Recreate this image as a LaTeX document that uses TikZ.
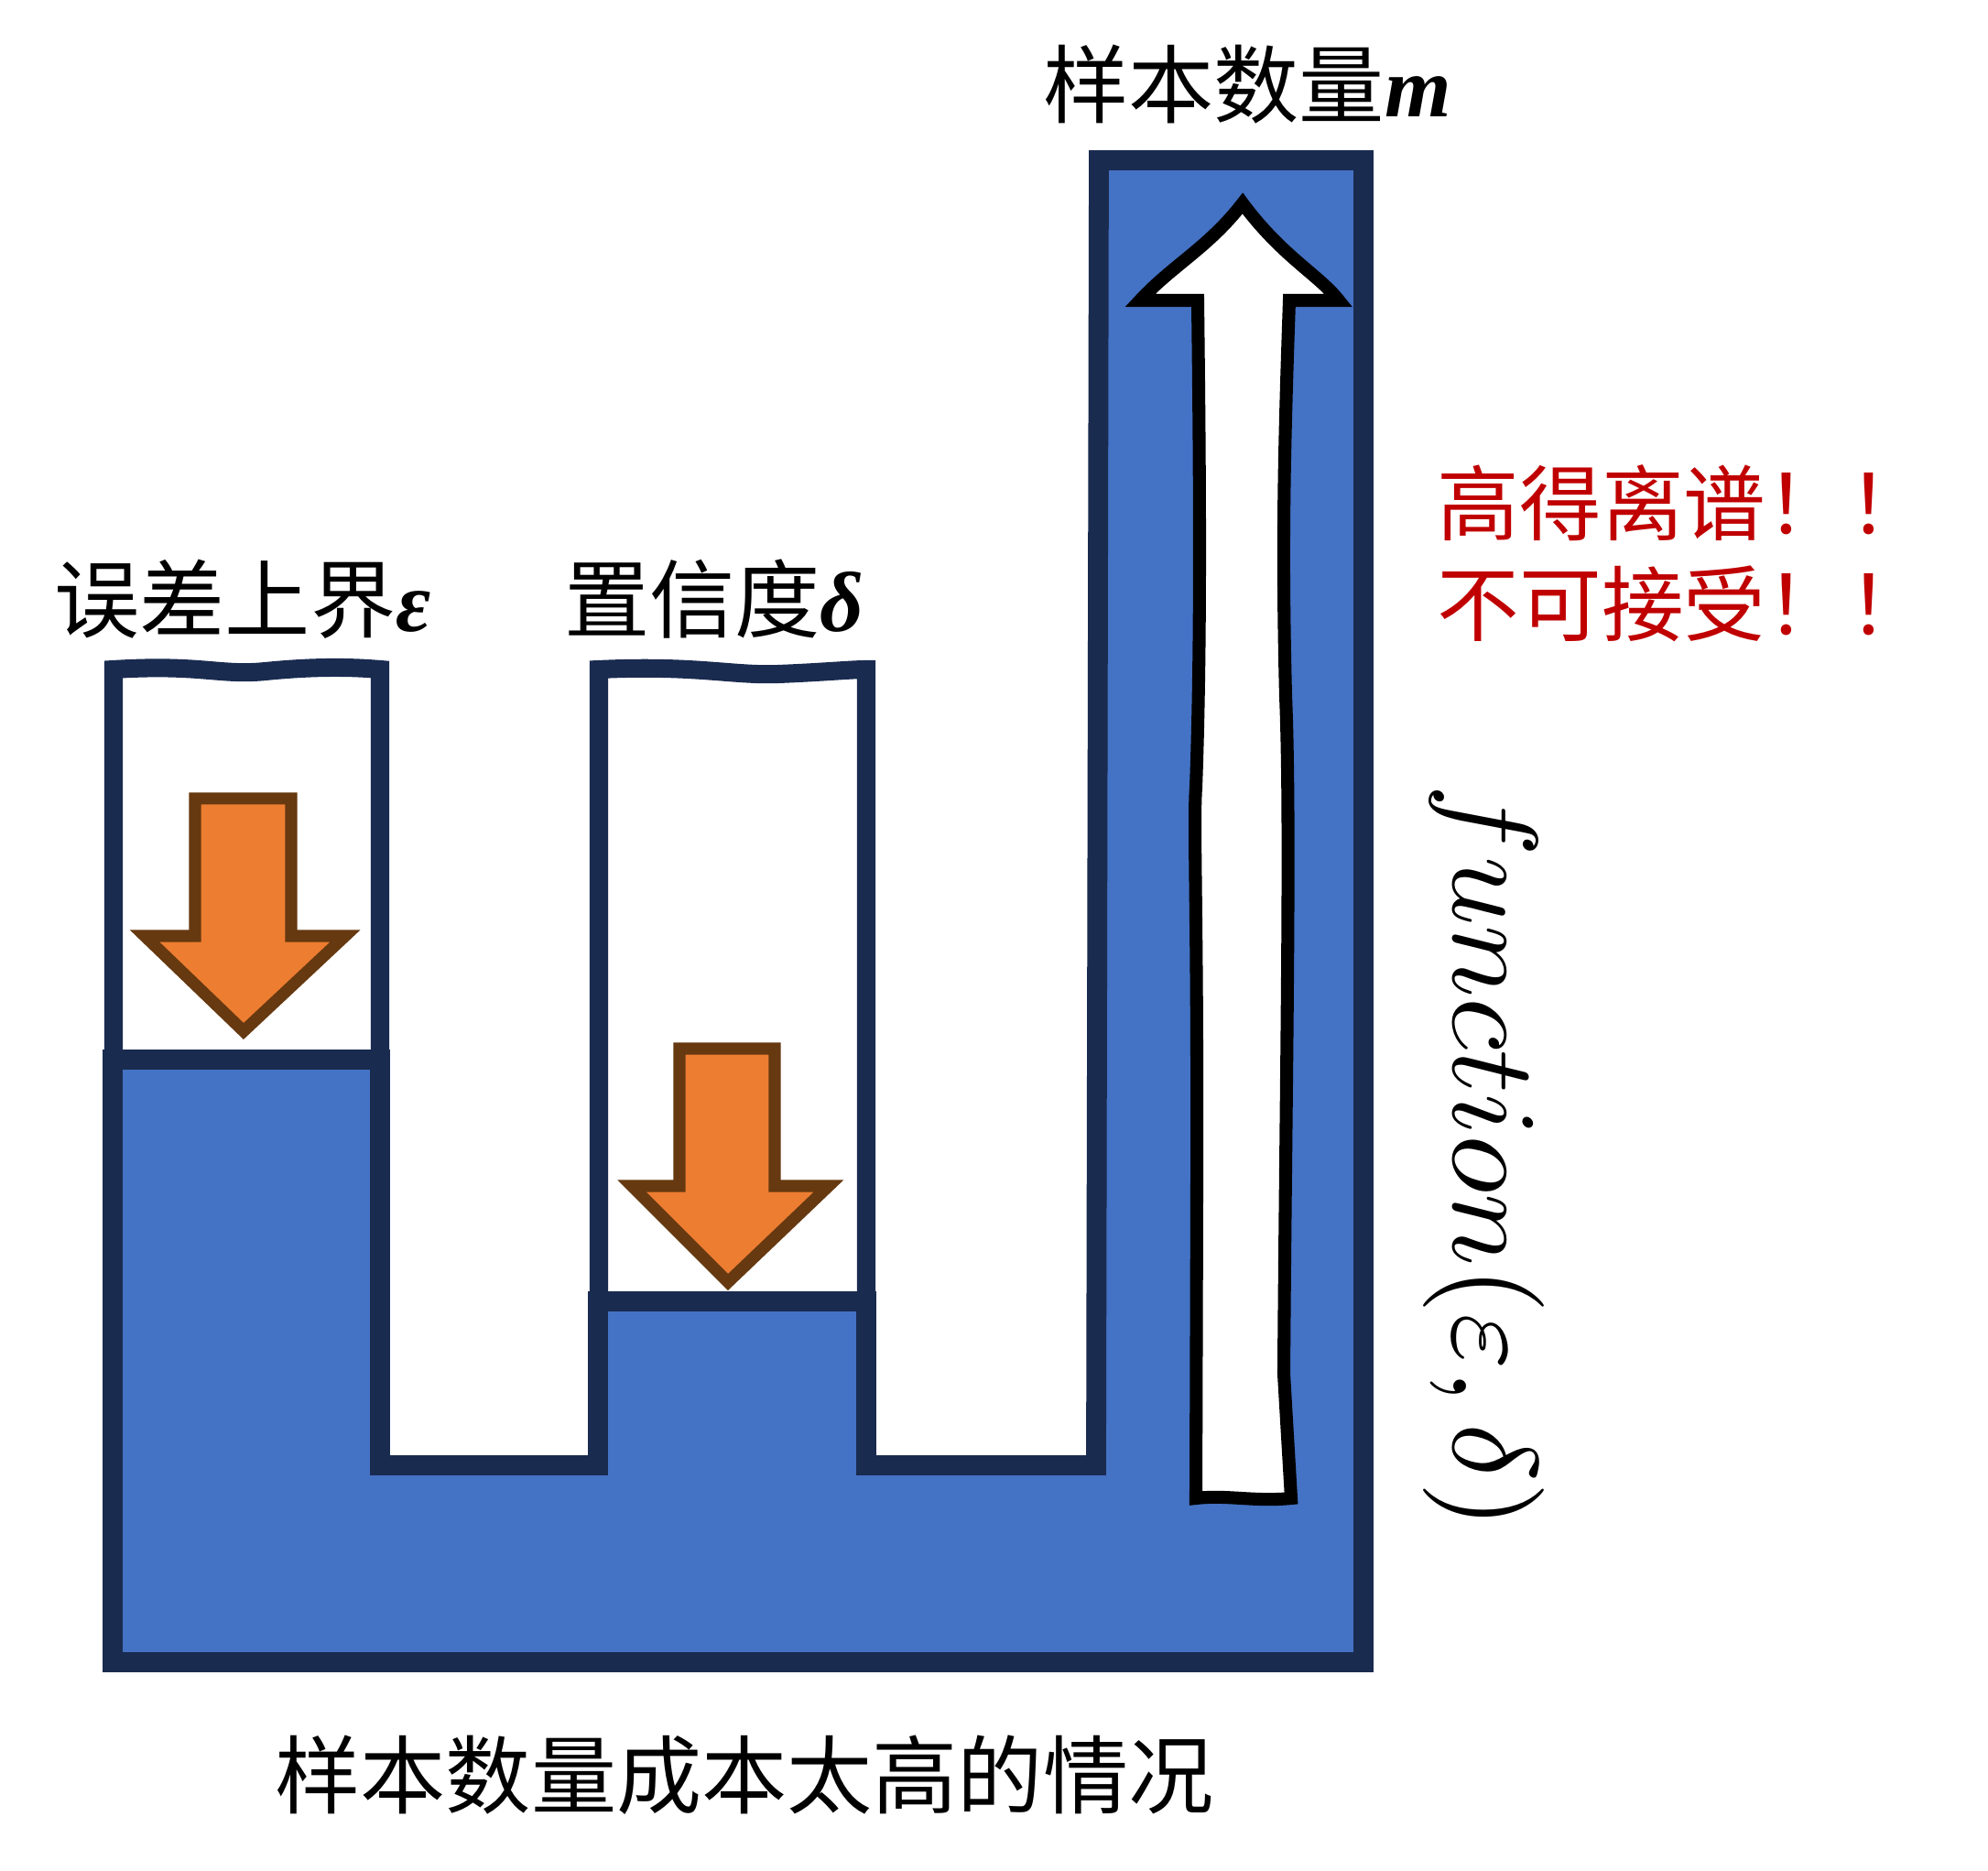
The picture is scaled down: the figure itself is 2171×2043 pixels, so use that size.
\documentclass[tikz,border=0pt]{standalone}
\usepackage{fontspec}
\usepackage{graphicx}
\newfontfamily\cjk{Noto Sans CJK SC}
\newfontfamily\grk{Liberation Serif}
\definecolor{cNavy}{HTML}{1A2B50}
\definecolor{cBlue}{HTML}{4472C4}
\definecolor{cOrange}{HTML}{ED7D31}
\definecolor{cBrown}{HTML}{663910}
\definecolor{cRed}{HTML}{C00000}
\begin{document}
\begin{tikzpicture}[x=0.01cm,y=-0.01cm,
  colbox/.style={draw=cNavy,fill=white,line width=5.7pt,line join=miter},
  basin/.style={draw=cNavy,fill=cBlue,line width=6.2pt,line join=miter},
  downarrow/.style={draw=cBrown,fill=cOrange,line width=3.7pt,line join=miter},
  uparrow/.style={draw=black,fill=white,line width=4pt,line join=miter},
  lbl/.style={font=\cjk\fontsize{26.5pt}{32pt}\selectfont,inner sep=0pt},
  redlbl/.style={font=\cjk\fontsize{25.5pt}{30pt}\selectfont,text=cRed,inner sep=0pt,anchor=west}]
\useasboundingbox (0,0) rectangle (2171,2043);
% white upper boxes
\draw[colbox] (124,1157) -- (124,731) .. controls (220,725) and (240,738) .. (290,733) .. controls (340,728) and (380,728) .. (415,731) -- (415,1157);
\draw[colbox] (654,1421) -- (654,731) .. controls (760,726) and (800,738) .. (850,736) .. controls (900,734) and (930,731) .. (946,731) -- (946,1421);
% blue basin
\draw[basin] (123,1157) -- (415,1157) -- (415,1600) -- (653,1600) -- (653,1421) -- (946,1421) -- (946,1600) -- (1197,1600) -- (1200,175) -- (1489,175) -- (1489,1815) -- (123,1815) -- cycle;
% orange arrows
\draw[downarrow] (213,872) -- (318,872) -- (318,1022) -- (377,1022) -- (266,1126) -- (158,1022) -- (213,1022) -- cycle;
\draw[downarrow] (742,1145) -- (846,1145) -- (846,1295) -- (905,1295) -- (795,1400) -- (690,1295) -- (742,1295) -- cycle;
% white up arrow
\draw[uparrow] (1357,222) .. controls (1400,280) and (1440,300) .. (1462,328) -- (1408,328)
  .. controls (1402,500) and (1400,600) .. (1404,760) .. controls (1410,900) and (1404,1200) .. (1402,1500) -- (1410,1636)
  .. controls (1370,1640) and (1340,1632) .. (1306,1636)
  -- (1307,1300) .. controls (1308,1000) and (1303,900) .. (1306,860) .. controls (1312,700) and (1310,500) .. (1308,328)
  -- (1245,328) .. controls (1280,290) and (1320,270) .. cycle;
% labels
\node[lbl] (lblEps) at (265,654) {误差上界{\grk\bfseries\itshape ε}};
\node[lbl] (lblDel) at (780,654) {置信度{\grk\bfseries\itshape δ}};
\node[lbl] (lblM) at (1362,92) {样本数量{\grk\bfseries\itshape m}};
\node[redlbl] (red1) at (1569,549) {高得离谱！！};
\node[redlbl] (red2) at (1569,659) {不可接受！！};
\node[rotate=-90,inner sep=0pt] (fn) at (1620,1263) {\scalebox{3.75}{$function(\varepsilon,\delta)$}};
\node[lbl] (cap) at (813,1938) {样本数量成本太高的情况};
\end{tikzpicture}
\end{document}
